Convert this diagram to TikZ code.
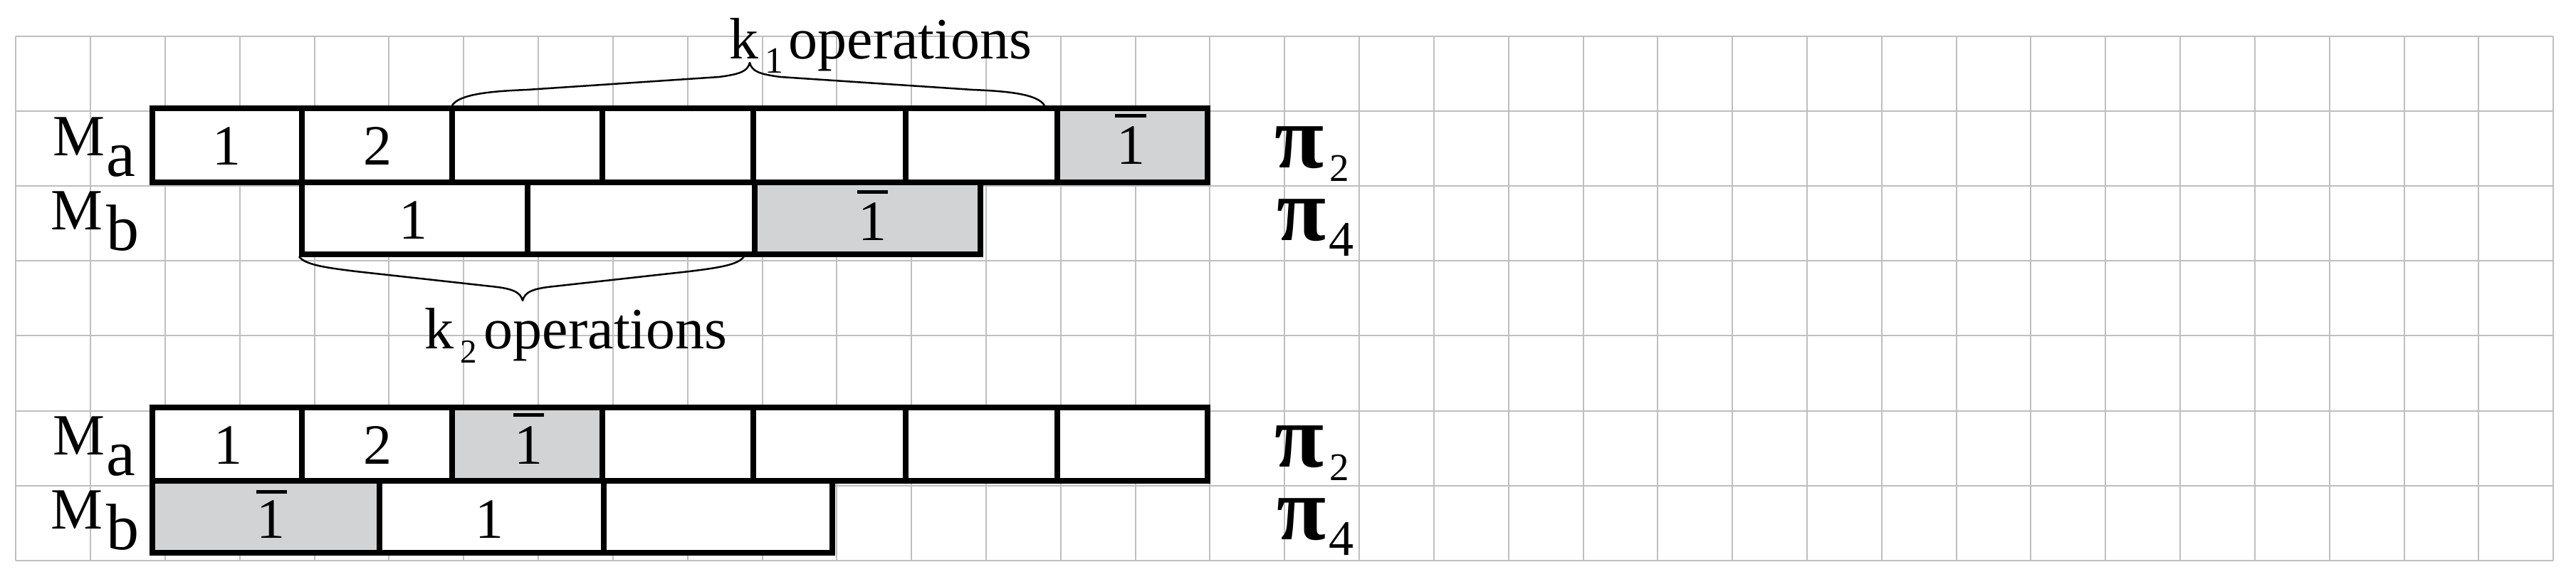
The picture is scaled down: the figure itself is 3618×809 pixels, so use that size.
\documentclass[tikz,border=0pt]{standalone}
\usepackage{fontspec}
\setmainfont{Liberation Serif}
\definecolor{gridgray}{RGB}{190,191,193}
\definecolor{cellgray}{RGB}{209,211,212}
\newcommand\mycell[6]{%
  \pgfmathsetmacro\cw{#5-#3}\pgfmathsetmacro\ch{#6-#4}%
  \node[#1, minimum width=\cw pt, minimum height=\ch pt] (#2) at ({(#3+#5)/2},{(#4+#6)/2}) {};}
\begin{document}
\begin{tikzpicture}[x=1pt,y=-1pt,
  gridline/.style={draw=gridgray, line width=2pt},
  cell/.style={draw=black, line width=8pt, fill=white, inner sep=0pt, outer sep=0pt},
  shaded/.style={cell, fill=cellgray},
  digit/.style={inner sep=0pt, anchor=base, font=\fontsize{80}{80}\selectfont},
  bar/.style={fill=black},
  lbl/.style={inner sep=0pt, anchor=base west, font=\fontsize{82}{82}\selectfont},
  pilbl/.style={inner sep=0pt, anchor=base west, font=\fontsize{82}{82}\selectfont},
  bracepath/.style={draw=black, line width=2.5pt, line join=round}]
\useasboundingbox (0,0) rectangle (3618,809);
% grid
\foreach \i in {0,...,34}{\draw[gridline] ({22.3+104.82*\i},51) -- ({22.3+104.82*\i},786.7);}
\foreach \j in {0,...,7}{\draw[gridline] (22.3,{51+105.1*\j}) -- (3586.2,{51+105.1*\j});}
% ---- top diagram ----
\mycell{cell}{a1}{214}{151.5}{423.5}{255.5}
\mycell{cell}{a2}{423.5}{151.5}{635}{255.5}
\mycell{cell}{a3}{635}{151.5}{846}{255.5}
\mycell{cell}{a4}{846}{151.5}{1057.5}{255.5}
\mycell{cell}{a5}{1057.5}{151.5}{1271.5}{255.5}
\mycell{cell}{a6}{1271.5}{151.5}{1485}{255.5}
\mycell{shaded}{a7}{1485}{151.5}{1696}{255.5}
\mycell{cell}{b1}{423.5}{255.5}{741}{357}
\mycell{cell}{b2}{741}{255.5}{1060}{357}
\mycell{shaded}{b3}{1060}{255.5}{1377}{357}
\node[digit] (ta1) at (318,231) {1};
\node[digit] (ta2) at (530,231) {2};
\node[digit] (ta7) at (1588,230) {1};
\fill[bar] (1566,160) rectangle (1610,165);
\node[digit] (tb1) at (580,335) {1};
\node[digit] (tb3) at (1225.5,337) {1};
\fill[bar] (1204,267) rectangle (1247,272);
% labels
\node[lbl] (lMa1) at (74,218) {M\kern2pt\raisebox{-29pt}{\fontsize{92}{92}\selectfont a}};
\node[lbl] (lMb1) at (71,322) {M\kern5pt\raisebox{-29pt}{\fontsize{92}{92}\selectfont b}};
\node[pilbl] (pi2a) at (1790,235) {\fontsize{126}{126}\selectfont\bfseries\smash{π}\kern8pt\raisebox{-19pt}{\fontsize{55}{55}\mdseries\selectfont 2}};
\node[pilbl] (pi4a) at (1793,337) {\fontsize{126}{126}\selectfont\bfseries\smash{π}\kern4pt\raisebox{-22pt}{\fontsize{70}{70}\mdseries\selectfont 4}};
% braces
\draw[bracepath] (635,148) .. controls (645,132) and (690,128) .. (740,126) -- (1010,108) .. controls (1040,104) and (1050,100) .. (1053,88)
  .. controls (1056,100) and (1066,104) .. (1096,108) -- (1366,126) .. controls (1416,128) and (1457,132) .. (1467,148);
\node[lbl] (k1) at (1024.5,82) {k\hspace{8.5pt}\raisebox{-20pt}{\fontsize{52}{52}\selectfont 1}\hspace{7.6pt}operations};
\draw[bracepath] (420,360) .. controls (428,372) and (460,376) .. (500,381) -- (690,402) .. controls (720,405) and (731,410) .. (734,422)
  .. controls (737,410) and (748,405) .. (778,402) -- (968,381) .. controls (1008,376) and (1037,372) .. (1045,360);
\node[lbl] (k2) at (596,489) {k\hspace{9.6pt}\raisebox{-20pt}{\fontsize{47}{47}\selectfont 2}\hspace{9.6pt}operations};
% ---- bottom diagram ----
\mycell{cell}{c1}{214}{572}{423.5}{675}
\mycell{cell}{c2}{423.5}{572}{635}{675}
\mycell{shaded}{c3}{635}{572}{846}{675}
\mycell{cell}{c4}{846}{572}{1057.5}{675}
\mycell{cell}{c5}{1057.5}{572}{1271.5}{675}
\mycell{cell}{c6}{1271.5}{572}{1485}{675}
\mycell{cell}{c7}{1485}{572}{1696}{675}
\mycell{shaded}{d1}{214}{675}{533}{776}
\mycell{cell}{d2}{533}{675}{848}{776}
\mycell{cell}{d3}{848}{675}{1169}{776}
\node[digit] (tc1) at (320,651) {1};
\node[digit] (tc2) at (530,651) {2};
\node[digit] (tc3) at (742,651) {1};
\fill[bar] (721,580) rectangle (764,585);
\node[digit] (td1) at (380,755) {1};
\fill[bar] (360,688) rectangle (403,693);
\node[digit] (td2) at (687,755) {1};
\node[lbl] (lMa2) at (74,638) {M\kern2pt\raisebox{-29pt}{\fontsize{92}{92}\selectfont a}};
\node[lbl] (lMb2) at (71,742) {M\kern5pt\raisebox{-29pt}{\fontsize{92}{92}\selectfont b}};
\node[pilbl] (pi2b) at (1790,655) {\fontsize{126}{126}\selectfont\bfseries\smash{π}\kern8pt\raisebox{-19pt}{\fontsize{55}{55}\mdseries\selectfont 2}};
\node[pilbl] (pi4b) at (1793,757) {\fontsize{126}{126}\selectfont\bfseries\smash{π}\kern4pt\raisebox{-22pt}{\fontsize{70}{70}\mdseries\selectfont 4}};
\end{tikzpicture}
\end{document}
